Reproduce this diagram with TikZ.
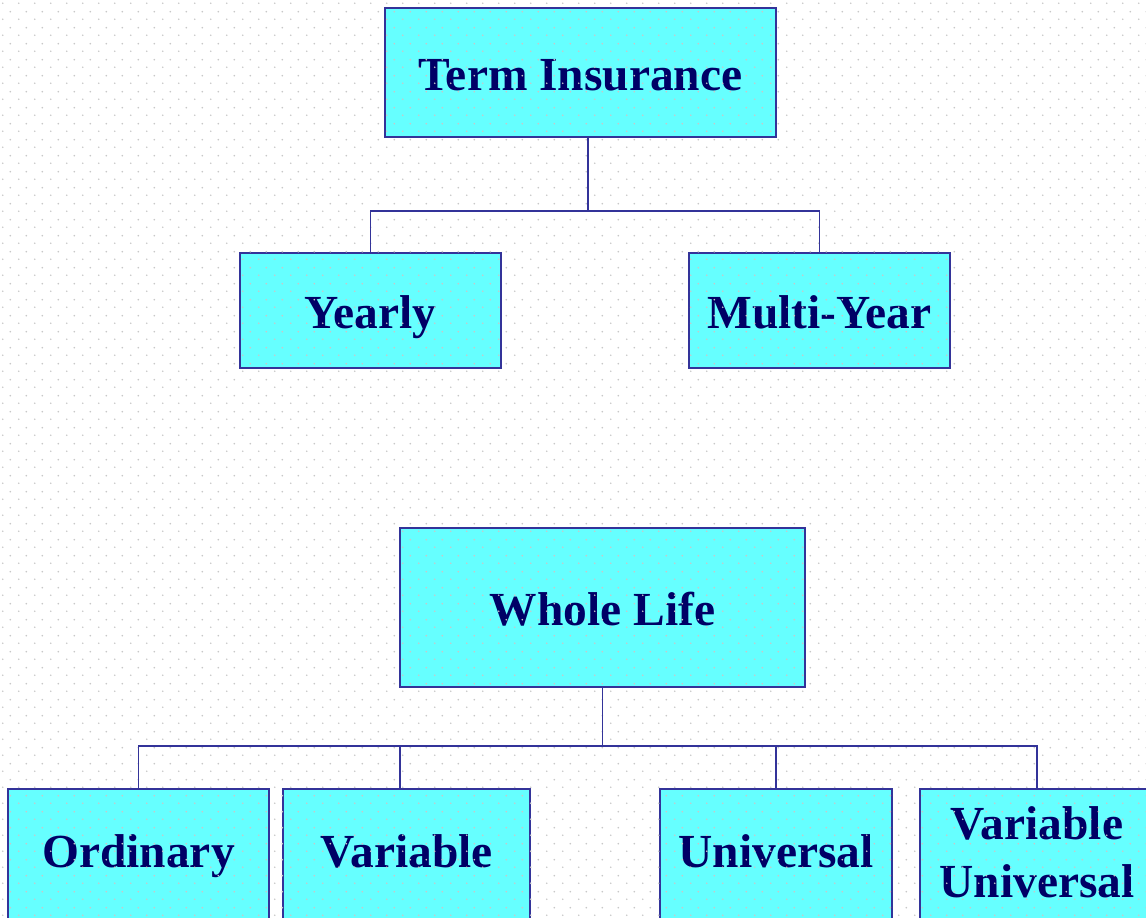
\documentclass[tikz,border=0pt]{standalone}
\usepackage{fontspec}
\setmainfont{Liberation Serif}
\usetikzlibrary{positioning,patterns}
\definecolor{boxfill}{HTML}{66FFFF}
\definecolor{boxline}{HTML}{333399}
\definecolor{boxtext}{HTML}{000066}
\definecolor{dotgray}{HTML}{C8C8C8}
\pgfdeclarepatternformonly{bgdots}{\pgfpointorigin}{\pgfpoint{0.32cm}{0.32cm}}{\pgfpoint{0.32cm}{0.32cm}}{%
  \pgfpathcircle{\pgfpoint{0.08cm}{0.08cm}}{0.02cm}%
  \pgfpathcircle{\pgfpoint{0.24cm}{0.24cm}}{0.02cm}%
  \pgfusepath{fill}}

\begin{document}
\begin{tikzpicture}[node distance=2cm,on grid,
   plan/.style={draw=boxline,fill=boxfill,line width=0.9pt,text=boxtext,
     font=\fontsize{27}{33}\selectfont\bfseries,align=center,inner sep=0pt,
     text height=20pt,text depth=0pt},
   lowplan/.style={plan,minimum height=2.7cm,text depth=7pt},
   link/.style={draw=boxline,line width=0.9pt}]
   \useasboundingbox (0,0) rectangle (22.92,-18.36);
   \clip (0,0) rectangle (22.92,-18.36);
   % term branch
   \node[plan,minimum width=7.82cm,minimum height=2.58cm] (term) at (11.61,-1.45) {Term Insurance};
   \node[plan,minimum width=5.22cm,minimum height=2.3cm] (yearly) [below left=4.76cm and 4.2cm of term] {Yearly};
   \node[plan,minimum width=5.22cm,minimum height=2.3cm] (multi) [below right=4.76cm and 4.78cm of term] {Multi-Year};
   % whole life branch
   \node[plan,minimum width=8.1cm,minimum height=3.18cm] (whole) at (12.05,-12.15) {Whole Life};
   \node[lowplan,minimum width=5.22cm] (ordinary) [below left=4.98cm and 9.28cm of whole] {Ordinary};
   \node[lowplan,minimum width=4.94cm] (variable) [below left=4.98cm and 3.92cm of whole] {Variable};
   \node[lowplan,minimum width=4.64cm] (universal) [below right=4.98cm and 3.47cm of whole] {Universal};
   \node[lowplan,minimum width=4.68cm,text height=,text depth=0.16cm] (varuni) [below right=4.98cm and 8.69cm of whole] {Variable\\Universal};
   % dotted paper
   \fill[pattern=bgdots,pattern color=dotgray] (0,0) rectangle (22.92,-18.36);
   \path[link]
([xshift=0.15cm]term.south) edge[to path={-- ++(0,-1.46) -| (\tikztotarget)}] (yearly.north)
	edge[to path={-- ++(0,-1.46) -| (\tikztotarget)}] (multi.north)
(whole.south) edge[to path={-- ++(0,-1.16) -| (\tikztotarget)}] (ordinary.north)
	edge[to path={-- ++(0,-1.16) -| (\tikztotarget)}] ([xshift=-0.13cm]variable.north)
	edge[to path={-- ++(0,-1.16) -| (\tikztotarget)}] (universal.north)
	edge[to path={-- ++(0,-1.16) -| (\tikztotarget)}] (varuni.north);
\end{tikzpicture}
\end{document}
